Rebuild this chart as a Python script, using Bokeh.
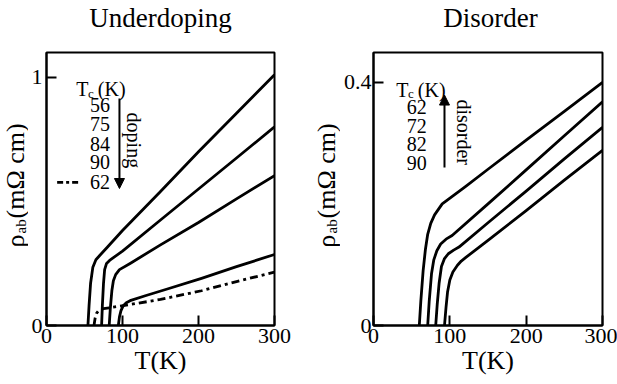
import numpy as np
from bokeh.plotting import figure
from bokeh.models import Range1d, FixedTicker, Label, Arrow, NormalHead
from bokeh.layouts import row, column
from bokeh.core.properties import value
from bokeh.embed import file_html
from bokeh.resources import INLINE

FONT = "Liberation Serif"

# ---------------- Titles ----------------
panel_titles = ["Underdoping", "Disorder"]

# ---------------- Data: Underdoping panel ----------------
under_tc = ["56", "75", "84", "90", "62"]
T_u56 = [54.5, 56, 58, 61, 65, 70, 80, 100, 150, 200, 250, 300]
r_u56 = [0, 0.08, 0.17, 0.235, 0.265, 0.282, 0.315, 0.383, 0.54, 0.70, 0.855, 1.01]
T_u75 = [72.5, 73.5, 75, 76.5, 79, 83, 100, 150, 200, 250, 300]
r_u75 = [0, 0.08, 0.17, 0.225, 0.25, 0.262, 0.30, 0.425, 0.55, 0.675, 0.80]
T_u84 = [82.5, 84, 86, 88, 91, 96, 110, 150, 200, 250, 300]
r_u84 = [0, 0.07, 0.14, 0.18, 0.205, 0.225, 0.25, 0.325, 0.415, 0.51, 0.604]
T_u90 = [94.5, 96, 98, 101, 105, 110, 130, 160, 204, 250, 300]
r_u90 = [0, 0.035, 0.06, 0.08, 0.092, 0.10, 0.12, 0.148, 0.19, 0.237, 0.286]
T_u62 = [62.5, 64, 66, 69, 75, 90, 105, 150, 204, 250, 300]
r_u62 = [0, 0.03, 0.05, 0.062, 0.068, 0.075, 0.082, 0.105, 0.14, 0.177, 0.215]

# ---------------- Data: Disorder panel ----------------
dis_tc = ["62", "72", "82", "90"]
T_d62 = [60, 62, 65, 68, 71, 75, 80, 90, 120, 150, 200, 250, 300]
r_d62 = [0, 0.04, 0.09, 0.125, 0.15, 0.168, 0.182, 0.20, 0.228, 0.257, 0.305, 0.352, 0.40]
T_d72 = [71, 73, 76, 79, 83, 88, 95, 103, 150, 200, 250, 300]
r_d72 = [0, 0.04, 0.085, 0.108, 0.123, 0.134, 0.142, 0.148, 0.20, 0.256, 0.312, 0.368]
T_d82 = [81.5, 83.5, 86, 89, 93, 98, 105, 112, 150, 200, 250, 300]
r_d82 = [0, 0.035, 0.07, 0.097, 0.11, 0.118, 0.124, 0.129, 0.169, 0.221, 0.274, 0.326]
T_d90 = [93, 95, 97, 100, 104, 110, 115, 121, 150, 200, 250, 300]
r_d90 = [0, 0.03, 0.055, 0.075, 0.088, 0.099, 0.106, 0.112, 0.140, 0.189, 0.239, 0.288]

x_ticks = [0, 100, 200, 300]
u_yticks = [0, 1]
d_yticks = [0, 0.4]

PANEL_H = 340
LW = 2.8


def blank_fig(width, height, y_range=None):
    p = figure(width=width, height=height, output_backend="svg", toolbar_location=None,
               x_range=Range1d(0, width),
               y_range=y_range if y_range is not None else Range1d(0, height),
               x_axis_type=None, y_axis_type=None, title=None,
               min_border=0, min_border_left=0, min_border_right=0,
               min_border_top=0, min_border_bottom=0)
    p.grid.visible = False
    p.outline_line_color = None
    p.background_fill_color = "white"
    p.border_fill_color = "white"
    return p


def make_fig(width, ymax, yticks, yover, border_left, border_right, ystandoff):
    p = figure(width=width, height=PANEL_H, output_backend="svg", toolbar_location=None,
               x_range=Range1d(0, 300), y_range=Range1d(0, ymax), title=None,
               min_border_left=border_left, min_border_right=border_right,
               min_border_top=8, min_border_bottom=59)
    p.grid.visible = False
    p.outline_line_color = "black"
    p.outline_line_width = 2
    p.outline_line_alpha = 1
    p.background_fill_color = "white"
    p.border_fill_color = "white"
    p.xaxis.ticker = FixedTicker(ticks=x_ticks)
    p.yaxis.ticker = FixedTicker(ticks=yticks)
    p.yaxis.major_label_overrides = yover
    p.xaxis.major_label_overrides = {t: str(t) for t in x_ticks}
    for ax in (p.xaxis, p.yaxis):
        ax.axis_line_color = "black"
        ax.axis_line_width = 2
        ax.major_tick_in = 10
        ax.major_tick_out = 0
        ax.major_tick_line_width = 2
        ax.major_tick_line_color = "black"
        ax.minor_tick_line_color = None
        ax.major_label_text_font = FONT
        ax.major_label_text_font_size = "22px"
        ax.major_label_text_color = "black"
    p.xaxis.major_label_standoff = 3
    p.yaxis.major_label_standoff = ystandoff
    p.xaxis.axis_label = "T(K)"
    p.xaxis.axis_label_text_font = FONT
    p.xaxis.axis_label_text_font_size = "26px"
    p.xaxis.axis_label_text_font_style = "normal"
    p.xaxis.axis_label_text_color = "black"
    p.xaxis.axis_label_standoff = 0
    return p


def lab(p, x, y, text, size, angle=0.0, align="left", baseline="alphabetic"):
    p.add_layout(Label(x=x, y=y, text=text, text_font=FONT, text_font_size=size,
                       text_color="black", angle=angle, text_align=align,
                       text_baseline=baseline))


def ylabel_fig(width, xc, xc_ab, y_range, y_rho, y_ab, y_main):
    # y-axis label  "ρ_ab (mΩ cm)"  rotated, drawn in its own strip beside the panel
    p = blank_fig(width, PANEL_H, y_range=y_range)
    lab(p, xc, y_rho, "ρ", "26px", angle=np.pi / 2, baseline="middle")
    lab(p, xc_ab, y_ab, "ab", "15px", angle=np.pi / 2, baseline="middle")
    lab(p, xc, y_main, "(mΩ cm)", "26px", angle=np.pi / 2, baseline="middle")
    return p


# ---------------- Title strip ----------------
tfig = blank_fig(617, 44)
tfig.text(x=[160, 490], y=[27, 27], text=panel_titles,
          text_font=value(FONT), text_font_size=value("27px"), text_color="black",
          text_align="center", text_baseline="middle")

# ---------------- Left panel ----------------
pu = make_fig(280, 1.10, u_yticks, {0: "0", 1: "1"}, 15, 34, 4)
yl_left = ylabel_fig(28, 14.5, 20.3, pu.y_range, 0.3145, 0.371, 0.4315)
for T, r in [(T_u56, r_u56), (T_u75, r_u75), (T_u84, r_u84), (T_u90, r_u90)]:
    pu.line(T, r, line_color="black", line_width=LW, line_join="round")
pu.line(T_u62, r_u62, line_color="black", line_width=LW, line_dash="8 4 3 4")

lab(pu, 39.3, 0.952, "T", "20px")
lab(pu, 54.5, 0.934, "c", "13px")
lab(pu, 67.5, 0.952, "(K)", "20px")
u_leg_y = [0.887, 0.810, 0.730, 0.657, 0.577]
for t, yy in zip(under_tc, u_leg_y):
    lab(pu, 70.5, yy, t, "20px", align="center", baseline="middle")
pu.line([14, 42], [u_leg_y[-1]] * 2, line_color="black", line_width=LW, line_dash="6 3 3 3")
pu.add_layout(Arrow(x_start=96, y_start=0.915, x_end=96, y_end=0.552, line_width=2,
                    end=NormalHead(size=10, fill_color="black", line_color="black")))
lab(pu, 115, 0.746, "doping", "20px", angle=-np.pi / 2, align="center", baseline="middle")

# ---------------- Right panel ----------------
pd_ = make_fig(277, 0.449, d_yticks, {0: "0", 0.4: "0.4"}, 30, 15, 2)
yl_right = ylabel_fig(32, 18.0, 23.8, pd_.y_range, 0.128, 0.1514, 0.176)
for T, r in [(T_d62, r_d62), (T_d72, r_d72), (T_d82, r_d82), (T_d90, r_d90)]:
    pd_.line(T, r, line_color="black", line_width=LW, line_join="round")

lab(pd_, 29.7, 0.388, "T", "20px")
lab(pd_, 45.3, 0.381, "c", "13px")
lab(pd_, 58.0, 0.388, "(K)", "20px")
d_leg_y = [0.360, 0.328, 0.298, 0.268]
for t, yy in zip(dis_tc, d_leg_y):
    lab(pd_, 56.5, yy, t, "20px", align="center", baseline="middle")
pd_.add_layout(Arrow(x_start=93, y_start=0.26, x_end=93, y_end=0.379, line_width=2,
                     end=NormalHead(size=10, fill_color="black", line_color="black")))
lab(pd_, 119, 0.318, "disorder", "20px", angle=-np.pi / 2, align="center", baseline="middle")

layout = column(tfig, row(yl_left, pu, yl_right, pd_))
open("out.html", "w").write(file_html(layout, INLINE))
